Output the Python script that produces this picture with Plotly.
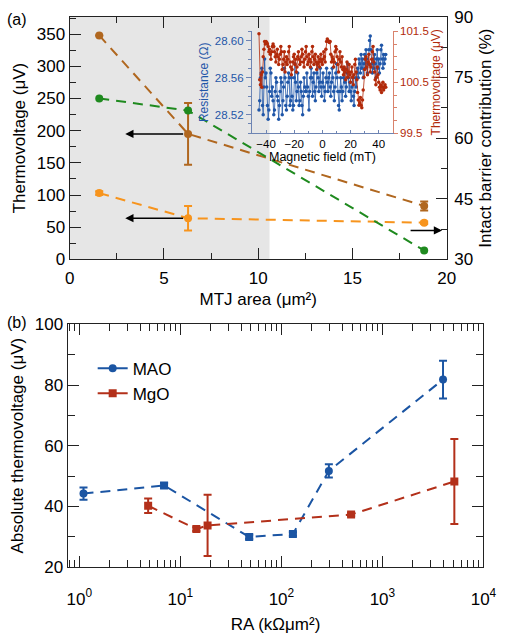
import plotly.graph_objects as go

# ---------------- Panel (a) data ----------------
mtj_area = [1.57, 6.28, 18.8]
tv_brown = [348, 195, 83]
tv_brown_err = [0, 48, 7]
tv_orange = [103, 64, 57]
tv_orange_err = [3, 19, 2]
intact_green = [69.8, 66.8, 32.2]

# ---------------- Inset data ----------------
field = [-45 + 0.5 * i for i in range(181)]
resistance = [
    28.525, 28.535, 28.56, 28.565, 28.57, 28.53, 28.52, 28.55, 28.58, 28.56,
    28.565, 28.55, 28.53, 28.515, 28.525, 28.545, 28.57, 28.565, 28.54, 28.55,
    28.535, 28.52, 28.525, 28.545, 28.56, 28.555, 28.54, 28.535, 28.515, 28.53,
    28.545, 28.56, 28.555, 28.52, 28.535, 28.55, 28.57, 28.56, 28.53, 28.525,
    28.54, 28.555, 28.565, 28.56, 28.53, 28.535, 28.56, 28.54, 28.525, 28.53,
    28.56, 28.575, 28.555, 28.535, 28.545, 28.565, 28.55, 28.53, 28.535, 28.555,
    28.545, 28.53, 28.52, 28.54, 28.56, 28.55, 28.545, 28.545, 28.565, 28.55,
    28.54, 28.525, 28.545, 28.56, 28.57, 28.56, 28.54, 28.555, 28.565, 28.545,
    28.535, 28.55, 28.565, 28.575, 28.56, 28.545, 28.555, 28.57, 28.55, 28.54,
    28.555, 28.565, 28.55, 28.535, 28.545, 28.56, 28.57, 28.555, 28.545, 28.56,
    28.565, 28.55, 28.54, 28.555, 28.57, 28.56, 28.545, 28.535, 28.55, 28.565,
    28.575, 28.56, 28.545, 28.53, 28.525, 28.545, 28.56, 28.55, 28.535, 28.545,
    28.56, 28.57, 28.555, 28.54, 28.55, 28.565, 28.575, 28.56, 28.545, 28.555,
    28.545, 28.535, 28.55, 28.56, 28.54, 28.53, 28.545, 28.56, 28.55, 28.565,
    28.57, 28.56, 28.58, 28.575, 28.565, 28.585, 28.57, 28.58, 28.56, 28.575,
    28.585, 28.57, 28.59, 28.58, 28.565, 28.575, 28.59, 28.60, 28.605, 28.59,
    28.575, 28.565, 28.58, 28.57, 28.585, 28.575, 28.56, 28.58, 28.59, 28.57,
    28.58, 28.565, 28.575, 28.59, 28.595, 28.58, 28.57, 28.585, 28.575, 28.58,
    28.585,
]
thermo_inset = [
    101.45, 100.55, 100.45, 100.65, 100.4, 100.7, 101.0, 101.15, 101.3, 101.25,
    101.3, 101.28, 101.25, 101.2, 101.1, 101.15, 101.05, 100.95, 101.1, 101.2,
    101.25, 101.2, 101.1, 101.0, 100.9, 101.05, 101.15, 101.0, 100.85, 100.95,
    101.05, 101.2, 101.1, 100.75, 100.85, 100.95, 101.1, 100.7, 100.9, 101.0,
    100.85, 100.95, 101.1, 101.2, 100.9, 100.8, 100.65, 100.75, 100.9, 101.0,
    101.05, 100.85, 100.95, 100.7, 100.8, 101.0, 101.1, 100.95, 100.85, 100.9,
    101.0, 101.15, 101.05, 100.9, 100.8, 100.95, 101.1, 101.2, 101.0, 100.85,
    100.9, 101.05, 100.95, 100.8, 100.9, 101.1, 101.2, 101.0, 100.85, 100.95,
    101.05, 100.9, 100.75, 100.85, 101.0, 100.9, 100.8, 100.95, 101.05, 100.9,
    100.85, 100.95, 101.1, 101.0, 100.9, 101.15, 101.3, 101.35, 101.32, 101.3,
    101.28, 101.3, 101.05, 100.9, 101.0, 100.95, 100.8, 100.9, 101.1, 101.2,
    101.15, 101.0, 100.85, 100.7, 100.95, 101.1, 100.9, 100.8, 101.0, 100.75,
    100.65, 100.8, 100.7, 100.55, 100.75, 100.9, 100.6, 100.7, 100.85, 100.65,
    100.5, 100.7, 100.8, 100.6, 100.45, 100.65, 100.85, 100.95, 100.7, 100.55,
    100.3, 100.15, 100.05, 100.1, 100.2, 100.05, 100.0, 100.15, 100.35, 100.6,
    100.75, 100.95, 101.0, 100.8, 100.65, 100.9, 101.05, 100.85, 100.7, 100.8,
    100.95, 101.1, 101.2, 100.9, 100.7, 100.55, 100.45, 100.6, 100.8, 100.65,
    100.5, 100.4, 100.35, 100.45, 100.3, 100.4, 100.5, 100.35, 100.4, 100.45,
    100.4,
]

# ---------------- Panel (b) data ----------------
ra_mao = [1.1, 6.9, 48, 130, 295, 3980]
tv_mao = [44.2, 46.9, 29.9, 30.9, 51.7, 81.8]
tv_mao_err = [2.0, 0.8, 0.7, 0.6, 2.2, 6.2]
sym_mao = ["circle", "square", "square", "square", "circle", "circle"]
ra_mgo = [4.8, 14.4, 18.6, 490, 5150]
tv_mgo = [40.2, 32.5, 33.7, 37.3, 48.2]
tv_mgo_err = [2.4, 0.6, 10.1, 0.6, 14.0]

BROWN = "#b0671f"
GREEN = "#1f8a1f"
ORANGE = "#f7941d"
BLUE = "#1b55a3"
RED = "#b3301a"
IBLUE = "#1f56a8"
IRED = "#b22a0a"
FONT = "Liberation Sans"

W, H = 509, 643
def px(x0, x1):
    return [x0 / W, x1 / W]
def py(top, bottom):
    return [1 - bottom / H, 1 - top / H]

fig = go.Figure()

dash = "10px,7px"
# Panel (a)
fig.add_trace(go.Scatter(x=mtj_area, y=tv_brown, mode="lines+markers",
    line=dict(color=BROWN, width=2, dash=dash), marker=dict(size=8, color=BROWN),
    error_y=dict(type="data", array=tv_brown_err, color=BROWN, thickness=2, width=4),
    xaxis="x", yaxis="y", showlegend=False))
fig.add_trace(go.Scatter(x=mtj_area, y=tv_orange, mode="lines+markers",
    line=dict(color=ORANGE, width=2, dash=dash), marker=dict(size=8, color=ORANGE),
    error_y=dict(type="data", array=tv_orange_err, color=ORANGE, thickness=2, width=4),
    xaxis="x", yaxis="y", showlegend=False))
fig.add_trace(go.Scatter(x=mtj_area, y=intact_green, mode="lines+markers",
    line=dict(color=GREEN, width=2, dash=dash), marker=dict(size=8, color=GREEN),
    xaxis="x", yaxis="y2", showlegend=False))

# Inset
fig.add_trace(go.Scatter(x=field, y=resistance, mode="lines+markers",
    line=dict(color=IBLUE, width=0.8), marker=dict(size=3.5, color=IBLUE),
    xaxis="x2", yaxis="y3", showlegend=False))
fig.add_trace(go.Scatter(x=field, y=thermo_inset, mode="lines+markers",
    line=dict(color=IRED, width=0.8), marker=dict(size=3.5, color=IRED),
    xaxis="x2", yaxis="y4", showlegend=False))

# Panel (b)
fig.add_trace(go.Scatter(x=ra_mao, y=tv_mao, mode="lines+markers",
    line=dict(color=BLUE, width=2, dash=dash), marker=dict(size=8, color=BLUE, symbol=sym_mao),
    error_y=dict(type="data", array=tv_mao_err, color=BLUE, thickness=2, width=4),
    xaxis="x3", yaxis="y5", showlegend=False))
fig.add_trace(go.Scatter(x=ra_mgo, y=tv_mgo, mode="lines+markers",
    line=dict(color=RED, width=2, dash=dash), marker=dict(size=8, color=RED, symbol="square"),
    error_y=dict(type="data", array=tv_mgo_err, color=RED, thickness=2, width=4),
    xaxis="x3", yaxis="y5", showlegend=False))
fig.add_trace(go.Scatter(x=[None], y=[None], mode="lines+markers", name="MAO",
    line=dict(color=BLUE, width=2), marker=dict(size=8, color=BLUE, symbol="circle"),
    xaxis="x3", yaxis="y5"))
fig.add_trace(go.Scatter(x=[None], y=[None], mode="lines+markers", name="MgO",
    line=dict(color=RED, width=2), marker=dict(size=8, color=RED, symbol="square"),
    xaxis="x3", yaxis="y5"))

tickfont = dict(family=FONT, size=17, color="black")
titlefont = dict(family=FONT, size=17, color="black")
LC = "#222222"
common = dict(showgrid=False, zeroline=False, showline=True, linecolor=LC, linewidth=1.2,
              ticks="inside", tickcolor=LC, tickwidth=1.2, ticklen=11, tickfont=tickfont)

fig.update_layout(
    width=W, height=H, margin=dict(l=0, r=0, t=0, b=0),
    paper_bgcolor="white", plot_bgcolor="rgba(0,0,0,0)",
    font=dict(family=FONT, color="black"),
    xaxis=dict(domain=px(67, 458), range=[0, 20], tickvals=[0, 5, 10, 15, 20], anchor="y",
               mirror="ticks", minor=dict(dtick=2.5, ticks="inside", ticklen=6, tickcolor=LC),
               ticklabelstandoff=3,
               title=dict(text="MTJ area (μm²)", font=titlefont, standoff=6), **common),
    yaxis=dict(domain=py(8, 258), range=[0, 377], tickvals=[0, 50, 100, 150, 200, 250, 300, 350],
               anchor="x", minor=dict(dtick=25, ticks="inside", ticklen=6, tickcolor=LC),
               title=dict(text="Thermovoltage (μV)", font=titlefont, standoff=6), **common),
    yaxis2=dict(range=[30, 90], tickvals=[30, 45, 60, 75, 90], overlaying="y", side="right", anchor="x",
                minor=dict(dtick=7.5, ticks="inside", ticklen=6, tickcolor=LC),
                ticklabelstandoff=3,
                title=dict(text="Intact barrier contribution (%)", font=titlefont, standoff=6), **common),
    xaxis2=dict(domain=px(256, 402), range=[-50, 50], tickvals=[-40, -20, 0, 20, 40], anchor="y3",
                showgrid=False, zeroline=False, showline=True, linecolor="#6d84b3", linewidth=1,
                ticks="inside", ticklen=3, tickcolor="#6d84b3",
                minor=dict(dtick=10, ticks="inside", ticklen=2, tickcolor="#6d84b3"),
                tickfont=dict(family=FONT, size=11.5, color="black")),
    yaxis3=dict(domain=py(23, 128), range=[28.50, 28.61], tickvals=[28.52, 28.56, 28.60], anchor="x2",
                tickformat=".2f", showgrid=False, zeroline=False, showline=True, linecolor="#6d84b3", linewidth=1,
                ticks="outside", ticklen=5, tickcolor="#6d84b3",
                minor=dict(dtick=0.01, ticks="outside", ticklen=3, tickcolor="#6d84b3"),
                tickfont=dict(family=FONT, size=11.5, color=IBLUE),
                title=dict(text="Resistance (Ω)", font=dict(family=FONT, size=12, color=IBLUE), standoff=3)),
    yaxis4=dict(range=[99.5, 101.5], tickvals=[99.5, 100.5, 101.5], overlaying="y3", side="right", anchor="x2",
                showgrid=False, zeroline=False, showline=True, linecolor="#d9826c", linewidth=1,
                ticks="outside", ticklen=4, tickcolor="#d9826c",
                minor=dict(dtick=0.25, ticks="outside", ticklen=3, tickcolor="#d9826c"),
                tickfont=dict(family=FONT, size=11.5, color=IRED),
                title=dict(text="Thermovoltage (μV)", font=dict(family=FONT, size=12, color=IRED), standoff=3)),
    xaxis3=dict(domain=px(65, 496), type="log", range=[-0.115, 4.0], anchor="y5",
                tickvals=[1, 10, 100, 1000, 10000],
                ticktext=["10<sup>0</sup>", "10<sup>1</sup>", "10<sup>2</sup>", "10<sup>3</sup>", "10<sup>4</sup>"],
                mirror="ticks", minor=dict(dtick="D1", ticks="inside", ticklen=7, tickcolor=LC),
                ticklabelstandoff=16,
                title=dict(text="RA (kΩμm²)", font=titlefont, standoff=10), **common),
    yaxis5=dict(domain=py(325, 575), range=[20, 100], tickvals=[20, 40, 60, 80, 100], anchor="x3",
                mirror="ticks", minor=dict(dtick=10, ticks="inside", ticklen=7, tickcolor=LC),
                title=dict(text="Absolute thermovoltage (μV)", font=titlefont, standoff=6), **common),
    legend=dict(x=97 / W - 0.012, y=1 - 352 / H, xanchor="left", yanchor="top",
                font=dict(family=FONT, size=17, color="black"), bgcolor="rgba(0,0,0,0)",
                itemwidth=30, tracegroupgap=0),
    shapes=[dict(type="rect", xref="x", yref="y domain", x0=0, x1=10.6, y0=0, y1=1,
                 fillcolor="#e6e6e6", line=dict(width=0), layer="below")],
    annotations=[
        dict(x=2.95, y=195, ax=6.1, ay=195, xref="x", yref="y", axref="x", ayref="y",
             showarrow=True, arrowhead=2, arrowsize=1.1, arrowwidth=1.5, arrowcolor="black", text=""),
        dict(x=2.95, y=64, ax=6.1, ay=64, xref="x", yref="y", axref="x", ayref="y",
             showarrow=True, arrowhead=2, arrowsize=1.1, arrowwidth=1.5, arrowcolor="black", text=""),
        dict(x=19.75, y=45, ax=18.0, ay=45, xref="x", yref="y", axref="x", ayref="y",
             showarrow=True, arrowhead=2, arrowsize=1.1, arrowwidth=1.5, arrowcolor="black", text=""),
        dict(x=0, xref="x2", y=1 - 153 / H, yref="paper", xanchor="center", yanchor="middle", showarrow=False,
             text="Magnetic field (mT)", font=dict(family=FONT, size=12.5, color="black")),
        dict(x=0, y=1, xref="paper", yref="paper", xanchor="left", yanchor="top", showarrow=False,
             text="(a)", font=dict(family=FONT, size=16, color="black")),
        dict(x=0, y=1 - 312 / H, xref="paper", yref="paper", xanchor="left", yanchor="top", showarrow=False,
             text="(b)", font=dict(family=FONT, size=16, color="black")),
    ],
)

fig.write_html("out.html")
